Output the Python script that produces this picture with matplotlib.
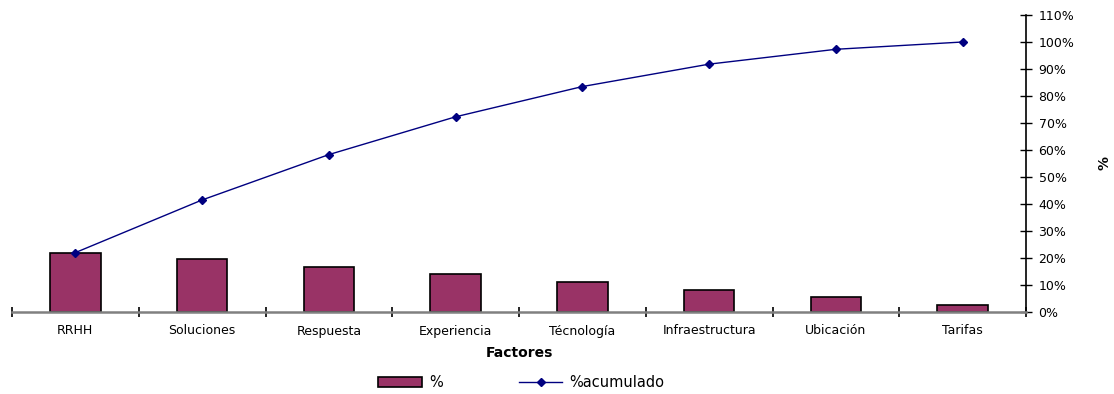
import matplotlib.pyplot as plt
import numpy as np
from matplotlib.ticker import FixedLocator, PercentFormatter

factores = ["RRHH", "Soluciones", "Respuesta", "Experiencia", "Técnología",
            "Infraestructura", "Ubicación", "Tarifas"]
porcentaje = [22.0, 19.5, 16.8, 14.0, 11.2, 8.3, 5.5, 2.7]
acumulado = np.cumsum(porcentaje)

plt.rcParams["font.family"] = "DejaVu Sans"

fig = plt.figure(figsize=(11.14, 3.94), dpi=100)
ax = fig.add_axes([12 / 1114, 82 / 394, 1014 / 1114, 297 / 394])

x = np.arange(len(factores))
barras = ax.bar(x, porcentaje, width=0.4, color="#993366", edgecolor="black",
                linewidth=1.2, label="%", zorder=2)
linea, = ax.plot(x, acumulado, color="#000080", lw=1, marker="D", ms=4.5,
                 label="%acumulado", zorder=3)

ax.set_xlim(-0.5, len(factores) - 0.5)
ax.set_ylim(0, 110)

# category labels at centers, tick marks between categories
ax.set_xticks(x)
ax.set_xticklabels(factores, fontsize=9)
ax.xaxis.set_minor_locator(FixedLocator(np.arange(-0.5, len(factores), 1)))
ax.tick_params(axis="x", which="major", length=0, pad=9)
ax.tick_params(axis="x", which="minor", direction="inout", length=7,
               width=1.2, color="black")

ax.yaxis.tick_right()
ax.yaxis.set_label_position("right")
ax.set_yticks(np.arange(0, 111, 10))
ax.yaxis.set_major_formatter(PercentFormatter(decimals=0))
ax.tick_params(axis="y", direction="inout", length=8, width=1, pad=5,
               labelsize=9)

for s in ("left", "top"):
    ax.spines[s].set_visible(False)
ax.spines["bottom"].set_color("#808080")
ax.spines["bottom"].set_linewidth(1.8)
ax.spines["right"].set_linewidth(1.2)

ax.set_xlabel("Factores", fontsize=10, fontweight="bold", labelpad=6)
ax.set_ylabel("%", fontsize=10, fontweight="bold", labelpad=17)

fig.legend(handles=[barras, linea], loc="center",
           bbox_to_anchor=(0.468, 0.028), ncol=2, frameon=False, fontsize=10.5,
           handlelength=3.0, handleheight=0.7, columnspacing=5.2,
           handletextpad=0.5)

fig.savefig("out.png", dpi=100)
